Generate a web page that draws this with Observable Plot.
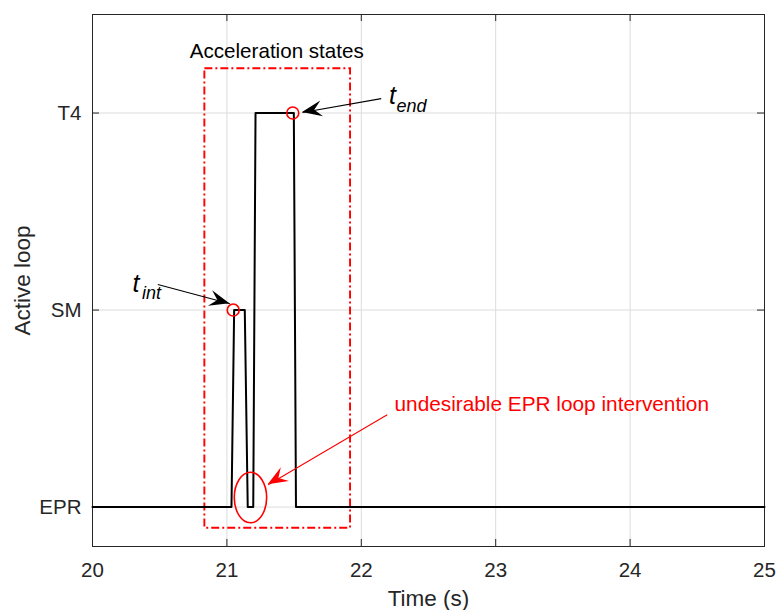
<!DOCTYPE html>
<html>
<head>
<meta charset="utf-8">
<script src="https://cdn.jsdelivr.net/npm/d3@7"></script>
<script src="https://cdn.jsdelivr.net/npm/@observablehq/plot@0.6"></script>
<style>
  html, body { margin: 0; padding: 0; background: #ffffff; }
  #chart { width: 778px; height: 610px; }
</style>
</head>
<body>
<div id="chart"></div>
<script>
// ---- data ----
const yLabels = ["EPR", "SM", "T4"];
const xTicks = [20, 21, 22, 23, 24, 25];
const yTicks = [0, 1, 2];

// active loop (0 = EPR, 1 = SM, 2 = T4) over time
const times = [20, 21.034, 21.054, 21.133, 21.155, 21.196, 21.213, 21.498, 21.514, 25];
const loops = [0, 0, 1, 1, 0, 0, 2, 2, 0, 0];

// highlighted instants
const markTimes = [21.047, 21.49];
const markLoops = [1, 2];

// annotation: acceleration states box
const boxX = [20.836, 21.92];
const boxY = [-0.107, 2.225];

// annotation: ellipse around the EPR dip (center, radii in data units)
const ellipseC = [21.179, 0.046];
const ellipseR = [0.1205, 0.128];

// annotation arrows
const arrowX1 = [20.486, 22.148, 22.193];
const arrowY1 = [1.130, 2.073, 0.4685];
const arrowX2 = [21.022, 21.5625, 21.307];
const arrowY2 = [1.032, 2.003, 0.113];
const arrowColor = ["#000000", "#000000", "#ff0000"];

// annotation texts
const labelTexts = ["Acceleration states", "undesirable EPR loop intervention"];
const labelX = [21.371, 22.247];
const labelY = [2.277, 0.490];

// ---- tables ----
const series = times.map((t, i) => ({t, v: loops[i]}));
const marksData = markTimes.map((t, i) => ({t, v: markLoops[i]}));
const arrows = arrowX1.map((x1, i) => ({x1, y1: arrowY1[i], x2: arrowX2[i], y2: arrowY2[i], c: arrowColor[i]}));

const W = 778, H = 610;
const mL = 92, mR = 14, mT = 14, mB = 64;
const innerW = W - mL - mR, innerH = H - mT - mB;
const tickLen = 7;
const svgns = "http://www.w3.org/2000/svg";

function annotations(index, scales) {
  const g = document.createElementNS(svgns, "g");
  // ellipse
  const e = document.createElementNS(svgns, "ellipse");
  const cx = scales.x(ellipseC[0]), cy = scales.y(ellipseC[1]);
  e.setAttribute("cx", cx);
  e.setAttribute("cy", cy);
  e.setAttribute("rx", Math.abs(scales.x(ellipseC[0] + ellipseR[0]) - cx));
  e.setAttribute("ry", Math.abs(scales.y(ellipseC[1] + ellipseR[1]) - cy));
  e.setAttribute("fill", "none");
  e.setAttribute("stroke", "#ff0000");
  e.setAttribute("stroke-width", 1.6);
  g.appendChild(e);
  // arrowheads
  const L = 20, Wd = 16, notch = 0.62;
  for (const a of arrows) {
    const px1 = scales.x(a.x1), py1 = scales.y(a.y1);
    const px2 = scales.x(a.x2), py2 = scales.y(a.y2);
    const ang = Math.atan2(py2 - py1, px2 - px1) * 180 / Math.PI;
    const p = document.createElementNS(svgns, "path");
    p.setAttribute("d", `M0,0L${-L},${-Wd / 2}L${-L * notch},0L${-L},${Wd / 2}Z`);
    p.setAttribute("transform", `translate(${px2},${py2}) rotate(${ang})`);
    p.setAttribute("fill", a.c);
    p.setAttribute("stroke", "none");
    g.appendChild(p);
  }
  return g;
}

const plot = Plot.plot({
  width: W,
  height: H,
  marginLeft: mL,
  marginRight: mR,
  marginTop: mT,
  marginBottom: mB,
  style: {fontFamily: "'Liberation Sans', Arial, Helvetica, sans-serif", color: "#262626", background: "#ffffff"},
  x: {domain: [20, 25], label: null},
  y: {domain: [-0.2, 2.5], label: null},
  marks: [
    Plot.gridX(xTicks, {stroke: "#dcdcdc", strokeOpacity: 1}),
    Plot.gridY(yTicks, {stroke: "#dcdcdc", strokeOpacity: 1}),
    Plot.axisX({ticks: xTicks, tickSize: 0, tickPadding: 16, fontSize: 20.5, label: null, tickFormat: d => String(d)}),
    Plot.axisY({ticks: yTicks, tickSize: 0, tickPadding: 11, fontSize: 20.5, label: null, tickFormat: i => yLabels[i]}),
    // inward ticks on all four sides
    Plot.tickX(xTicks, {x: d => d, insetTop: innerH - tickLen, stroke: "#262626"}),
    Plot.tickX(xTicks, {x: d => d, insetBottom: innerH - tickLen, stroke: "#262626"}),
    Plot.tickY(yTicks, {y: d => d, insetRight: innerW - tickLen, stroke: "#262626"}),
    Plot.tickY(yTicks, {y: d => d, insetLeft: innerW - tickLen, stroke: "#262626"}),
    Plot.frame({stroke: "#262626", strokeWidth: 1}),
    // acceleration states box
    Plot.rect([{x1: boxX[0], x2: boxX[1], y1: boxY[0], y2: boxY[1]}], {
      x1: "x1", x2: "x2", y1: "y1", y2: "y2",
      fill: "none", stroke: "#ff0000", strokeWidth: 1.9, strokeDasharray: "8 3 2 3"
    }),
    // the signal
    Plot.line(series, {x: "t", y: "v", stroke: "#000000", strokeWidth: 2}),
    Plot.dot(marksData, {x: "t", y: "v", r: 6, stroke: "#ff0000", fill: "none", strokeWidth: 1.6}),
    // arrow shafts
    Plot.link(arrows, {x1: "x1", y1: "y1", x2: "x2", y2: "y2", stroke: "c", strokeWidth: 1.1}),
    annotations,
    // texts
    Plot.text([labelTexts[0]], {x: labelX[0], y: labelY[0], text: d => d, fontSize: 20.6, fill: "#000000", textAnchor: "middle", lineAnchor: "bottom"}),
    Plot.text([labelTexts[1]], {x: labelX[1], y: labelY[1], text: d => d, fontSize: 20.8, fill: "#ff0000", textAnchor: "start", lineAnchor: "bottom"}),
    Plot.text(["t"], {x: 20.298, y: 1.094, text: d => d, fontSize: 25, fontStyle: "italic", fill: "#000000", textAnchor: "start", lineAnchor: "bottom"}),
    Plot.text(["int"], {x: 20.368, y: 1.054, text: d => d, fontSize: 18, fontStyle: "italic", fill: "#000000", textAnchor: "start", lineAnchor: "bottom"}),
    Plot.text(["t"], {x: 22.206, y: 2.044, text: d => d, fontSize: 25, fontStyle: "italic", fill: "#000000", textAnchor: "start", lineAnchor: "bottom"}),
    Plot.text(["end"], {x: 22.262, y: 2.003, text: d => d, fontSize: 18, fontStyle: "italic", fill: "#000000", textAnchor: "start", lineAnchor: "bottom"}),
    // axis titles
    Plot.text(["Active loop"], {frameAnchor: "left", dx: -63, rotate: -90, text: d => d, fontSize: 22.5, fill: "#262626", textAnchor: "middle", lineAnchor: "bottom"}),
    Plot.text(["Time (s)"], {frameAnchor: "bottom", dy: 59, text: d => d, fontSize: 22.5, fill: "#262626", textAnchor: "middle", lineAnchor: "bottom"})
  ]
});

document.getElementById("chart").appendChild(plot);
</script>
</body>
</html>
